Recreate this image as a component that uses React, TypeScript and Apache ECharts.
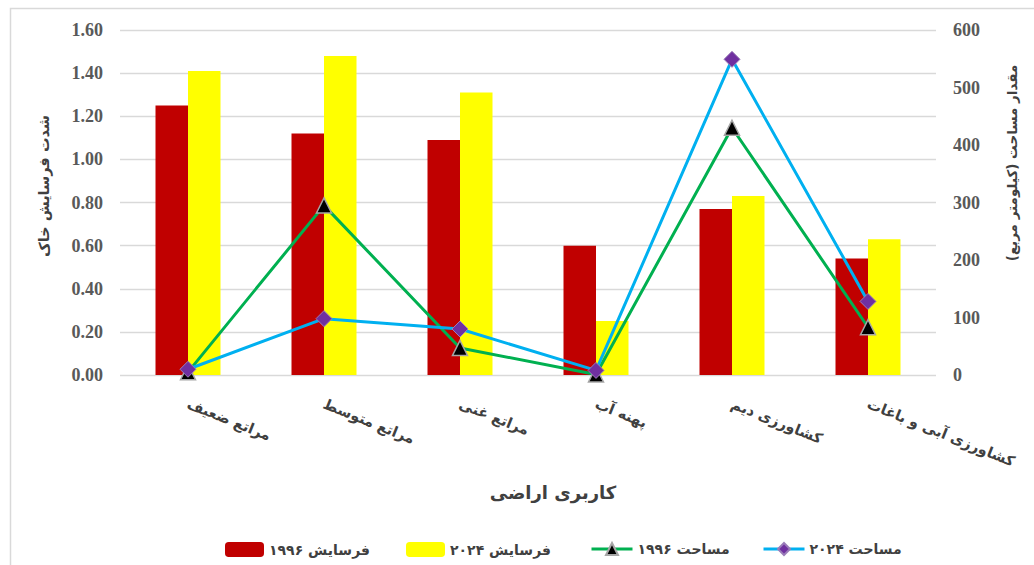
import React, { useEffect, useRef } from "react";
import * as echarts from "echarts";

// Land-use classes
const categories = [
  "مراتع ضعیف",
  "مراتع متوسط",
  "مراتع غنی",
  "پهنه آب",
  "کشاورزی دیم",
  "کشاورزی آبی و باغات",
];

// Soil erosion intensity (left axis)
const erosion1996 = [1.25, 1.12, 1.09, 0.6, 0.77, 0.54];
const erosion2024 = [1.41, 1.48, 1.31, 0.25, 0.83, 0.63];

// Area in square kilometres (right axis)
const area1996 = [5, 295, 47, 1, 430, 83];
const area2024 = [10, 98, 80, 8, 549, 128];

const seriesNames = ["فرسایش ۱۹۹۶", "فرسایش ۲۰۲۴", "مساحت ۱۹۹۶", "مساحت ۲۰۲۴"];

const leftTitle = "شدت فرسایش خاک";
const rightTitle = "مقدار مساحت (کیلومتر مربع)";
const xTitle = "کاربری اراضی";

const FA = "'DejaVu Sans', sans-serif";
const NUM = "'Liberation Serif', 'Times New Roman', serif";
const GREY = "#595959";
const DARK = "#404040";

export default function App() {
  const ref = useRef<HTMLDivElement>(null);

  useEffect(() => {
    if (!ref.current) return;
    const chart = echarts.init(ref.current, null, { renderer: "svg" });

    const legendText = {
      fontFamily: FA,
      fontWeight: "bold" as const,
      fontSize: 14,
      color: DARK,
    };
    const legendAt = (name: string, left: number, w: number) => ({
      data: [name],
      left,
      top: 537,
      itemWidth: w,
      itemHeight: 15,
      itemGap: 0,
      textStyle: legendText,
      lineStyle: { width: 3 },
      selectedMode: false,
    });

    chart.setOption({
      animation: false,
      backgroundColor: "#ffffff",
      grid: { left: 120, right: 98, top: 30, bottom: 190 },
      legend: [
        legendAt(seriesNames[0], 220, 39),
        legendAt(seriesNames[1], 401, 39),
        legendAt(seriesNames[2], 585, 41),
        legendAt(seriesNames[3], 757, 41),
      ],
      xAxis: {
        type: "category",
        data: categories,
        axisLine: { show: false },
        axisTick: { show: false },
        axisLabel: {
          rotate: -22,
          margin: 28,
          fontFamily: FA,
          fontWeight: "bold",
          fontSize: 14.5,
          color: DARK,
        },
      },
      yAxis: [
        {
          type: "value",
          min: 0,
          max: 1.6,
          interval: 0.2,
          axisLine: { show: false },
          axisTick: { show: false },
          splitLine: { lineStyle: { color: "#d9d9d9", width: 1.3 } },
          axisLabel: {
            margin: 17,
            formatter: (v: number) => v.toFixed(2),
            fontFamily: NUM,
            fontWeight: "bold",
            fontSize: 18,
            color: GREY,
          },
        },
        {
          type: "value",
          min: 0,
          max: 600,
          interval: 100,
          axisLine: { show: false },
          axisTick: { show: false },
          splitLine: { show: false },
          axisLabel: {
            margin: 17,
            fontFamily: NUM,
            fontWeight: "bold",
            fontSize: 18,
            color: GREY,
          },
        },
      ],
      series: [
        {
          name: seriesNames[0],
          type: "bar",
          data: erosion1996,
          barWidth: 32.5,
          barGap: "0%",
          itemStyle: { color: "#C00000" },
        },
        {
          name: seriesNames[1],
          type: "bar",
          data: erosion2024,
          barWidth: 32.5,
          barGap: "0%",
          itemStyle: { color: "#FFFF00" },
        },
        {
          name: seriesNames[2],
          type: "line",
          yAxisIndex: 1,
          data: area1996,
          symbol: "triangle",
          symbolSize: 15,
          lineStyle: { color: "#00B050", width: 3 },
          itemStyle: { color: "#000000", borderColor: "#a6a6a6", borderWidth: 1.5 },
          z: 3,
        },
        {
          name: seriesNames[3],
          type: "line",
          yAxisIndex: 1,
          data: area2024,
          symbol: "diamond",
          symbolSize: 16,
          lineStyle: { color: "#00B0F0", width: 3 },
          itemStyle: { color: "#7030A0", borderColor: "#9a7cb8", borderWidth: 1 },
          z: 4,
        },
      ],
      graphic: [
        {
          type: "rect",
          left: 8,
          top: 6,
          shape: { x: 0, y: 0, width: 1100, height: 700 },
          style: { fill: "none", stroke: "#d9d9d9", lineWidth: 1.5 },
          silent: true,
        },
        {
          type: "text",
          x: 44,
          y: 186,
          rotation: Math.PI / 2,
          style: {
            text: leftTitle,
            fontFamily: FA,
            fontWeight: "bold",
            fontSize: 14.5,
            fill: DARK,
            align: "center",
            verticalAlign: "middle",
          },
        },
        {
          type: "text",
          x: 1012,
          y: 163,
          rotation: Math.PI / 2,
          style: {
            text: rightTitle,
            fontFamily: FA,
            fontWeight: "bold",
            fontSize: 13.5,
            fill: DARK,
            align: "center",
            verticalAlign: "middle",
          },
        },
        {
          type: "text",
          x: 553,
          y: 492,
          style: {
            text: xTitle,
            fontFamily: FA,
            fontWeight: "bold",
            fontSize: 18,
            fill: DARK,
            align: "center",
            verticalAlign: "middle",
          },
        },
      ],
    });

    return () => chart.dispose();
  }, []);

  return (
    <div
      ref={ref}
      style={{ position: "fixed", left: 0, top: 0, width: 1034, height: 565 }}
    />
  );
}
